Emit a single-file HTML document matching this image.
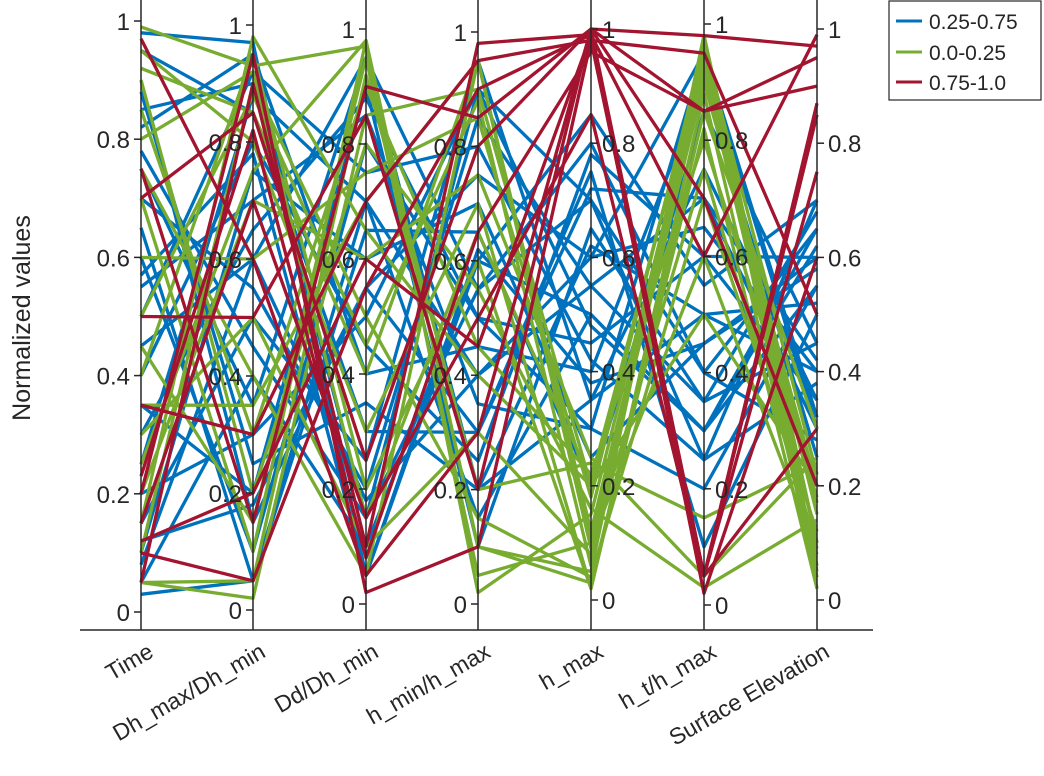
<!DOCTYPE html>
<html><head><meta charset="utf-8"><style>
body{margin:0;background:#fff;width:1044px;height:771px;overflow:hidden;font-family:"Liberation Sans",sans-serif}
svg text{font-family:"Liberation Sans",sans-serif;fill:#262626}
</style></head><body>
<svg id="chart" width="1044" height="771" viewBox="0 0 1044 771" xmlns="http://www.w3.org/2000/svg">
<g id="lines"></g><g id="axes"></g>
<text transform="translate(30,318) rotate(-90)" text-anchor="middle" font-size="25">Normalized values</text>
<g>
<rect x="889" y="1" width="152" height="99" fill="#fff" stroke="#262626" stroke-width="1.2"/>
<line x1="896" y1="21" x2="922" y2="21" stroke="#0072BD" stroke-width="3"/><text x="929" y="29" font-size="21">0.25-0.75</text>
<line x1="896" y1="52" x2="922" y2="52" stroke="#77AC30" stroke-width="3"/><text x="929" y="60" font-size="21">0.0-0.25</text>
<line x1="896" y1="82" x2="922" y2="82" stroke="#A2142F" stroke-width="3"/><text x="929" y="90" font-size="21">0.75-1.0</text>
</g>
</svg>
<script>
const categories=["Time","Dh_max/Dh_min","Dd/Dh_min","h_min/h_max","h_max","h_t/h_max","Surface Elevation"];
const tickLabels=["0","0.2","0.4","0.6","0.8","1"];
const blueRows=[
[0.98,0.97,0.05,0.6,0.5,0.3,0.55],[0.03,0.05,0.7,0.4,0.6,0.95,0.3],[0.85,0.9,0.15,0.55,0.8,0.4,0.65],
[0.45,0.6,0.95,0.2,0.35,0.5,0.4],[0.2,0.3,0.5,0.9,0.7,0.25,0.7],[0.6,0.1,0.8,0.5,0.45,0.6,0.35],
[0.95,0.85,0.3,0.3,0.75,0.1,0.5],[0.1,0.75,0.6,0.7,0.25,0.45,0.6],[0.7,0.55,0.2,0.85,0.55,0.7,0.3],
[0.35,0.2,0.9,0.1,0.65,0.35,0.45],[0.82,0.95,0.4,0.45,0.4,0.9,0.25],[0.05,0.4,0.1,0.6,0.85,0.55,0.7],
[0.55,0.7,0.85,0.35,0.3,0.2,0.55],[0.9,0.15,0.55,0.75,0.6,0.65,0.4],[0.25,0.88,0.7,0.15,0.5,0.3,0.65],
[0.15,0.5,0.25,0.95,0.35,0.75,0.35],[0.75,0.35,0.95,0.55,0.7,0.4,0.28],[0.4,0.8,0.45,0.25,0.78,0.6,0.6],
[0.65,0.05,0.65,0.65,0.2,0.85,0.45],[0.08,0.6,0.18,0.4,0.55,0.35,0.68],[0.5,0.92,0.75,0.8,0.42,0.25,0.38],
[0.88,0.25,0.35,0.2,0.62,0.5,0.52],[0.3,0.65,0.88,0.5,0.3,0.95,0.32],[0.78,0.45,0.15,0.9,0.48,0.3,0.62],
[0.12,0.18,0.55,0.3,0.72,0.7,0.42],[0.57,0.78,0.05,0.62,0.38,0.45,0.58]];
const greenRows=[
[0.99,0.93,0.97,0.1,0.05,0.98,0.1],[0.05,0.02,0.85,0.9,0.2,0.95,0.05],[0.92,0.85,0.4,0.95,0.1,0.9,0.2],
[0.4,0.95,0.2,0.6,0.02,0.85,0.3],[0.7,0.1,0.98,0.02,0.15,0.93,0.15],[0.2,0.7,0.6,0.75,0.25,0.05,0.25],
[0.3,0.5,0.1,0.3,0.08,0.97,0.02],[0.85,0.3,0.9,0.45,0.22,0.8,0.18],[0.1,0.9,0.5,0.15,0.04,0.7,0.12],
[0.6,0.6,0.75,0.85,0.18,0.96,0.22],[0.45,0.15,0.95,0.05,0.1,0.6,0.08],[0.95,0.8,0.3,0.7,0.02,0.88,0.04],
[0.15,0.98,0.65,0.4,0.2,0.5,0.2],[0.75,0.4,0.05,0.95,0.12,0.92,0.1],[0.05,0.05,0.92,0.2,0.24,0.15,0.24],
[0.5,0.88,0.45,0.88,0.06,0.98,0.06],[0.9,0.2,0.8,0.55,0.16,0.03,0.14],[0.25,0.75,0.98,0.1,0.03,0.82,0.02],
[0.8,0.92,0.15,0.65,0.21,0.94,0.17],[0.35,0.35,0.7,0.95,0.09,0.75,0.09]];
const redRows=[
[0.97,0.6,0.05,0.3,1.0,0.98,0.97],[0.05,0.9,0.1,0.98,0.99,0.05,0.75],[0.75,0.15,0.9,0.85,1.0,0.85,0.9],
[0.2,0.95,0.02,0.1,0.98,0.05,0.85],[0.12,0.2,0.6,0.45,0.99,0.6,0.99],[0.7,0.85,0.25,0.8,1.0,0.05,0.3],
[0.35,0.3,0.7,0.95,0.98,0.95,0.5],[0.15,0.7,0.15,0.5,0.85,0.05,0.87],[0.5,0.5,0.85,0.2,1.0,0.7,0.2],
[0.1,0.05,0.55,0.9,0.99,0.02,0.6],[0.23,0.82,0.08,0.65,0.96,0.85,0.95]];
const axisX=[141,253,366,478,591,704,817];
const axisY1=[21,25,29,32,29,24,29];
const axisY0=[612,610,604,604,600,605,600];
const labelSide=[-1,-1,-1,-1,1,1,1];
const NS="http://www.w3.org/2000/svg";
function yScale(i,v){return axisY0[i]+(axisY1[i]-axisY0[i])*v;}
const lines=document.getElementById('lines'),axes=document.getElementById('axes');
function drawGroup(rows,color,name){
rows.forEach((r,k)=>{const p=document.createElementNS(NS,'polyline');
p.setAttribute('points',r.map((v,i)=>axisX[i]+','+yScale(i,v).toFixed(1)).join(' '));
p.setAttribute('fill','none');p.setAttribute('stroke',color);p.setAttribute('stroke-width','3.3');p.setAttribute('stroke-linejoin','round');


lines.appendChild(p);});}
drawGroup(blueRows,'#0072BD','blue');drawGroup(greenRows,'#77AC30','green');drawGroup(redRows,'#A2142F','red');
const base=document.createElementNS(NS,'line');
base.setAttribute('x1',80);base.setAttribute('x2',873);base.setAttribute('y1',630);base.setAttribute('y2',630);base.setAttribute('stroke','#262626');base.setAttribute('stroke-width','1.5');


axes.appendChild(base);
categories.forEach((c,i)=>{const x=axisX[i];
const l=document.createElementNS(NS,'line');l.setAttribute('x1',x);l.setAttribute('x2',x);l.setAttribute('y1',0);l.setAttribute('y2',630);l.setAttribute('stroke','#262626');l.setAttribute('stroke-width','1.5');


axes.appendChild(l);
tickLabels.forEach((t,j)=>{const y=yScale(i,j/5);const s=labelSide[i];
const tk=document.createElementNS(NS,'line');tk.setAttribute('x1',x);tk.setAttribute('x2',x+s*7);tk.setAttribute('y1',y);tk.setAttribute('y2',y);tk.setAttribute('stroke','#262626');tk.setAttribute('stroke-width','1.5');


axes.appendChild(tk);
const tx=document.createElementNS(NS,'text');tx.setAttribute('x',x+s*11);tx.setAttribute('y',y+9);tx.setAttribute('font-size','24');tx.setAttribute('text-anchor',s<0?'end':'start');tx.textContent=t;


axes.appendChild(tx);});
const cl=document.createElementNS(NS,'text');cl.setAttribute('transform','translate('+(x+14)+',656) rotate(-30)');cl.setAttribute('text-anchor','end');cl.setAttribute('font-size','23');cl.textContent=c;


axes.appendChild(cl);});
</script>
</body></html>
